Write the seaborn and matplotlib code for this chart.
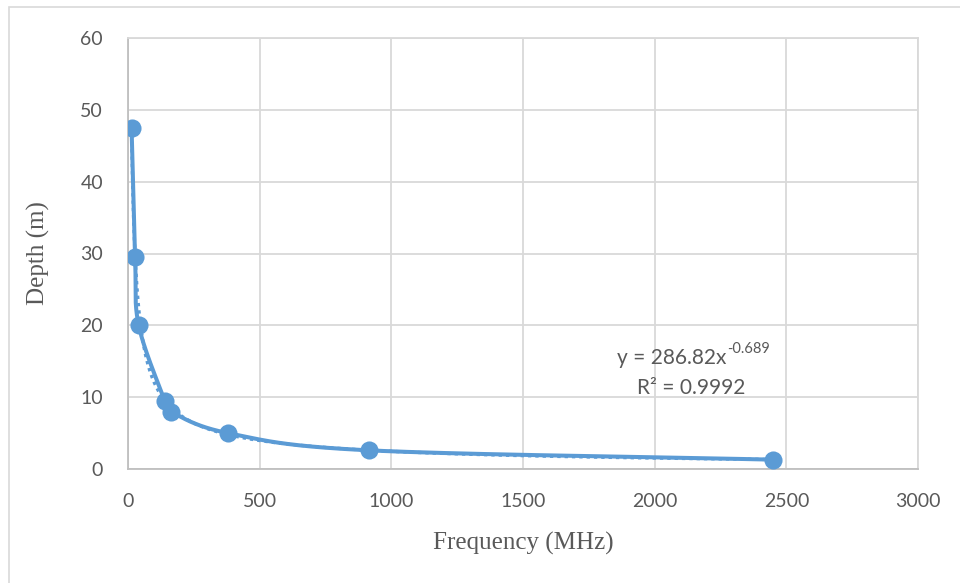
import numpy as np
import pandas as pd
import matplotlib
matplotlib.use("Agg")
import matplotlib.pyplot as plt
import seaborn as sns
from matplotlib.patches import Rectangle

# Measured penetration depth against frequency
frequency_mhz = [13.56, 27.12, 40.68, 140, 163, 380, 915, 2450]
depth_m = [47.5, 29.5, 20.0, 9.5, 8.0, 5.0, 2.6, 1.3]

# Power-law trendline coefficients
fit_a = 286.82
fit_b = -0.689
fit_r2 = 0.9992

x_ticks = [0, 500, 1000, 1500, 2000, 2500, 3000]
y_ticks = [0, 10, 20, 30, 40, 50, 60]

BLUE = "#5B9BD5"
GRID = "#D9D9D9"
TEXT = "#595959"


def catmull_rom(xs, ys, n=40):
    """Smooth curve through the points (uniform Catmull-Rom)."""
    pts = np.column_stack([xs, ys]).astype(float)
    p = np.vstack([pts[0] - (pts[1] - pts[0]), pts, pts[-1] + (pts[-1] - pts[-2])])
    out = []
    t = np.linspace(0, 1, n)[:, None]
    for i in range(1, len(p) - 2):
        p0, p1, p2, p3 = p[i - 1], p[i], p[i + 1], p[i + 2]
        seg = 0.5 * ((2 * p1) + (-p0 + p2) * t + (2 * p0 - 5 * p1 + 4 * p2 - p3) * t ** 2
                     + (-p0 + 3 * p1 - 3 * p2 + p3) * t ** 3)
        out.append(seg)
    arr = np.vstack(out)
    return arr[:, 0], arr[:, 1]


sns.set_theme(style="whitegrid")
plt.rcParams["font.family"] = ["Lato", "DejaVu Sans"]

fig = plt.figure(figsize=(9.6, 5.83), dpi=100)
ax = fig.add_axes([128 / 960, 1 - 469 / 583, 790 / 960, 431 / 583])

df = pd.DataFrame({"Frequency": frequency_mhz, "Depth": depth_m})

# Power trendline (dotted)
trend = pd.DataFrame({"Frequency": np.linspace(min(frequency_mhz), max(frequency_mhz), 600)})
trend["Depth"] = fit_a * trend["Frequency"] ** fit_b
sns.lineplot(data=trend, x="Frequency", y="Depth", ax=ax, color=BLUE,
             linewidth=2.4, linestyle=(0, (1, 1.2)), zorder=3)

# Smoothed series line with markers
sx, sy = catmull_rom(df["Frequency"].values, df["Depth"].values)
ax.plot(sx, sy, color=BLUE, linewidth=2.9, zorder=4, solid_capstyle="round")
sns.scatterplot(data=df, x="Frequency", y="Depth", ax=ax, color=BLUE, s=170,
                edgecolor=BLUE, linewidth=0, zorder=5)

ax.set_xlim(0, 3000)
ax.set_ylim(0, 60)
ax.set_xticks(x_ticks)
ax.set_yticks(y_ticks)
ax.grid(True, color=GRID, linewidth=1.3)
for s in ax.spines.values():
    s.set_visible(True)
    s.set_color(GRID)
    s.set_linewidth(1.3)
ax.spines["left"].set_color("#BFBFBF")
ax.spines["bottom"].set_color("#BFBFBF")
ax.tick_params(axis="both", length=0, labelsize=14, labelcolor=TEXT)
ax.tick_params(axis="x", pad=17)
ax.tick_params(axis="y", pad=18)

ax.set_xlabel("Frequency (MHz)", family=["Liberation Serif"], fontsize=18,
              color=TEXT, labelpad=16)
ax.set_ylabel("Depth (m)", family=["Liberation Serif"], fontsize=18,
              color=TEXT, labelpad=22)

eq = ax.text(2065, 15.5, f"y = {fit_a}x", ha="center", va="center",
             fontsize=15, color=TEXT)
ax.annotate(f"{fit_b}", xy=(1.0, 1.0), xycoords=eq, xytext=(0.5, 4),
            textcoords="offset points", ha="left", va="top",
            fontsize=10.5, color=TEXT)
ax.text(2140, 11.3, f"R² = {fit_r2}", ha="center", va="center",
        fontsize=15, color=TEXT)

# Chart-area border
fig.patches.append(Rectangle((9 / 960, -0.1), 1.1, 1 - 7 / 583 + 0.1,
                             transform=fig.transFigure, fill=False,
                             edgecolor=GRID, linewidth=1.2))

fig.savefig("out.png", dpi=100, facecolor="white")
